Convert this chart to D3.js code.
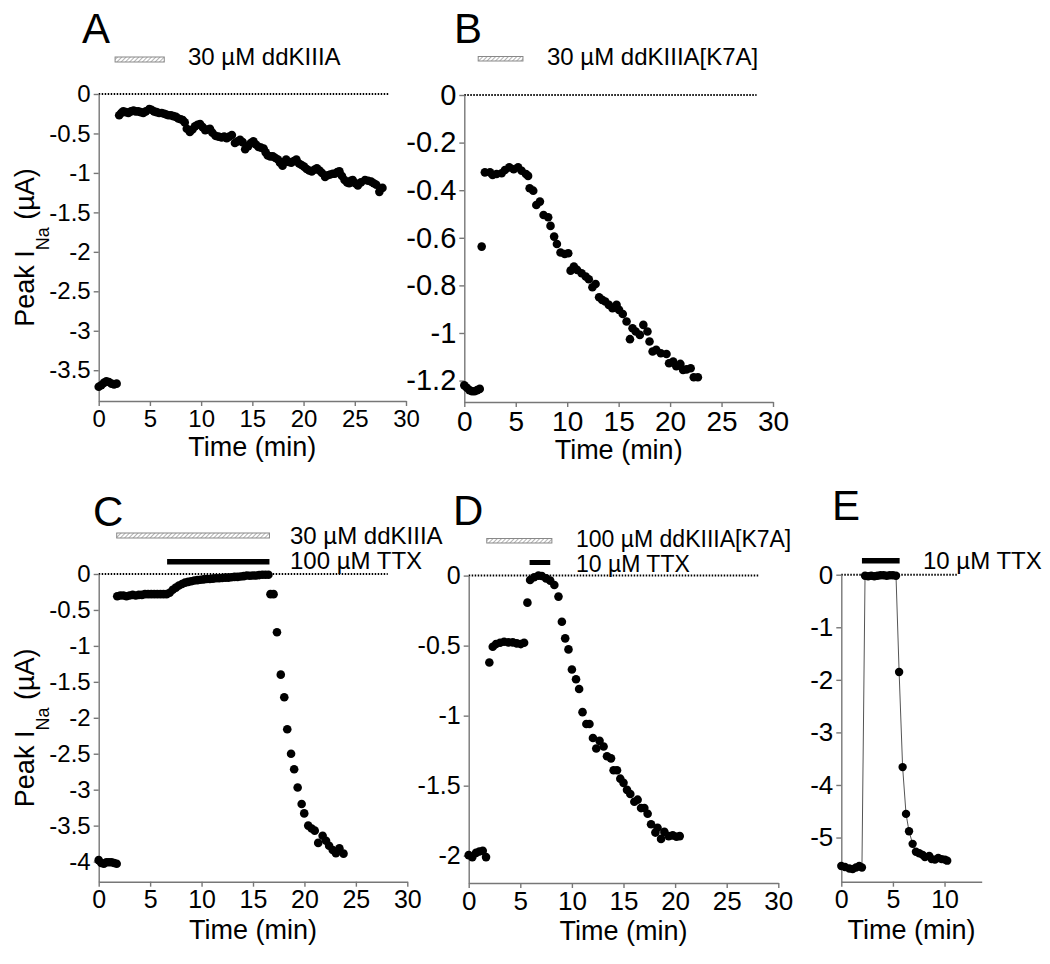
<!DOCTYPE html>
<html><head><meta charset="utf-8">
<script src="https://cdn.jsdelivr.net/npm/d3@7"></script>
<style>body{margin:0;background:#fff} text{font-family:"Liberation Sans",Arial,Helvetica,sans-serif;fill:#000}</style>
</head><body><svg id="c" width="1050" height="964"></svg>
<script>
// ---------- DATA ----------
const aTime = [0,0.25,0.5,0.75,1.0,1.25,1.5,1.75,2.0,2.2,2.4,2.65,2.9,3.15,3.4,3.6,3.86,4.1,4.35,4.6,4.94,5.15,5.4,5.65,5.9,6.15,6.4,6.6,6.8,7.05,7.3,7.55,7.77,8.0,8.2,8.4,8.6,8.9,9.15,9.4,9.65,9.9,10.15,10.4,10.6,10.86,11.1,11.4,11.7,12.0,12.25,12.5,12.75,13.0,13.3,13.55,13.8,14.05,14.3,14.6,14.85,15.1,15.35,15.6,15.85,16.1,16.3,16.5,16.75,17.0,17.25,17.5,17.7,17.95,18.15,18.3,18.55,18.8,19.05,19.3,19.55,19.8,20.05,20.3,20.55,20.8,21.05,21.3,21.55,21.8,22.1,22.35,22.6,22.85,23.05,23.3,23.5,23.75,24.0,24.25,24.45,24.6,24.8,25.05,25.3,25.6,26.0,26.3,26.6,26.85,27.1,27.4,27.7];
const aCurrent = [-3.71,-3.69,-3.66,-3.64,-3.65,-3.67,-3.68,-3.67,-0.27,-0.24,-0.22,-0.23,-0.24,-0.22,-0.21,-0.22,-0.22,-0.23,-0.24,-0.22,-0.19,-0.20,-0.22,-0.23,-0.24,-0.24,-0.25,-0.26,-0.27,-0.27,-0.28,-0.29,-0.31,-0.32,-0.33,-0.36,-0.44,-0.48,-0.45,-0.41,-0.39,-0.38,-0.42,-0.46,-0.45,-0.44,-0.49,-0.53,-0.54,-0.55,-0.54,-0.56,-0.54,-0.52,-0.62,-0.60,-0.58,-0.61,-0.70,-0.66,-0.62,-0.60,-0.64,-0.67,-0.68,-0.69,-0.74,-0.78,-0.79,-0.79,-0.81,-0.83,-0.87,-0.91,-0.86,-0.83,-0.86,-0.87,-0.85,-0.83,-0.88,-0.90,-0.92,-0.95,-0.97,-0.98,-0.96,-0.94,-0.97,-1.00,-1.05,-1.03,-1.02,-1.01,-1.01,-0.99,-0.98,-1.04,-1.09,-1.12,-1.13,-1.10,-1.09,-1.13,-1.16,-1.12,-1.09,-1.10,-1.11,-1.13,-1.15,-1.24,-1.19];

const bTime = [0,0.25,0.5,0.75,1.0,1.25,1.5,1.69,2.0,2.5,2.75,3.14,3.63,3.95,4.37,4.8,5.23,5.57,5.99,6.2,6.35,6.7,7.0,7.35,7.7,8.15,8.38,8.73,9.0,9.35,9.76,10.1,10.33,10.65,10.97,11.4,11.8,12.1,12.45,12.76,13.1,13.4,13.7,14.05,14.4,14.8,15.04,15.4,15.77,16.1,16.35,16.66,17.06,17.4,17.8,18.0,18.3,18.65,19.1,19.65,19.9,20.3,20.6,21.0,21.26,21.6,22.0,22.3,22.7];
const bCurrent = [-1.22,-1.23,-1.24,-1.245,-1.245,-1.24,-1.235,-0.637,-0.325,-0.325,-0.336,-0.332,-0.329,-0.315,-0.304,-0.312,-0.304,-0.318,-0.332,-0.34,-0.392,-0.402,-0.462,-0.448,-0.504,-0.514,-0.55,-0.595,-0.626,-0.662,-0.668,-0.665,-0.738,-0.721,-0.735,-0.749,-0.763,-0.774,-0.808,-0.794,-0.85,-0.861,-0.868,-0.882,-0.896,-0.882,-0.903,-0.92,-0.952,-1.026,-0.98,-0.994,-1.008,-0.966,-0.994,-1.036,-1.078,-1.071,-1.085,-1.088,-1.127,-1.12,-1.14,-1.13,-1.155,-1.153,-1.148,-1.186,-1.186];

const cTime = [0,0.25,0.5,0.75,1.0,1.25,1.5,1.75,1.8,2.1,2.4,2.7,3.0,3.3,3.6,3.9,4.2,4.5,4.8,5.1,5.4,5.7,6.0,6.3,6.6,6.9,7.2,7.5,7.8,8.1,8.4,8.7,9.0,9.3,9.6,9.9,10.2,10.5,10.8,11.1,11.4,11.7,12.0,12.3,12.6,12.9,13.2,13.5,13.8,14.1,14.4,14.7,15.0,15.3,15.6,15.9,16.2,16.5,16.7,17.0,17.33,17.7,18.04,18.33,18.7,19.0,19.34,19.73,19.98,20.37,20.7,21.0,21.34,21.77,22.1,22.4,22.75,23.06,23.4,23.8];
const cCurrent = [-3.98,-4.02,-4.03,-4.01,-4.01,-4.01,-4.02,-4.03,-0.31,-0.30,-0.30,-0.31,-0.30,-0.29,-0.30,-0.29,-0.29,-0.28,-0.28,-0.28,-0.28,-0.28,-0.28,-0.28,-0.28,-0.26,-0.22,-0.19,-0.16,-0.14,-0.12,-0.11,-0.10,-0.09,-0.085,-0.08,-0.075,-0.07,-0.07,-0.065,-0.06,-0.06,-0.055,-0.05,-0.05,-0.045,-0.04,-0.04,-0.035,-0.03,-0.02,-0.025,-0.02,-0.02,-0.015,-0.01,-0.01,-0.01,-0.28,-0.28,-0.81,-1.40,-1.715,-2.16,-2.5,-2.715,-2.97,-3.2,-3.33,-3.5,-3.54,-3.57,-3.74,-3.64,-3.71,-3.78,-3.84,-3.885,-3.815,-3.89];

const dTime = [0,0.35,0.71,1.03,1.36,1.68,2.0,2.33,2.65,3.04,3.43,3.85,4.27,4.66,5.05,5.37,5.69,5.95,6.34,6.76,7.09,7.5,7.9,8.3,8.7,9.03,9.35,9.67,10.0,10.4,10.7,11.03,11.4,11.7,12.04,12.36,12.68,13.07,13.4,13.79,14.04,14.37,14.69,15.0,15.34,15.66,16.05,16.37,16.7,17.02,17.34,17.67,18.09,18.3,18.64,18.96,19.38,19.77,20.13,20.45];
const dCurrent = [-1.996,-2.01,-1.98,-1.97,-1.965,-2.01,-0.62,-0.508,-0.489,-0.479,-0.472,-0.477,-0.477,-0.484,-0.489,-0.479,-0.193,-0.031,-0.012,0,-0.003,-0.02,-0.036,-0.067,-0.15,-0.33,-0.448,-0.527,-0.67,-0.74,-0.81,-0.975,-1.06,-1.06,-1.16,-1.235,-1.18,-1.22,-1.29,-1.305,-1.39,-1.39,-1.45,-1.48,-1.53,-1.56,-1.615,-1.6,-1.66,-1.66,-1.70,-1.775,-1.835,-1.80,-1.88,-1.83,-1.86,-1.855,-1.865,-1.86];

const eTime = [0,0.36,0.78,1.1,1.42,1.74,2.0,2.3,2.6,2.9,3.2,3.5,3.8,4.1,4.4,4.7,5.0,5.3,5.6,5.94,6.27,6.56,6.91,7.23,7.55,7.88,8.1,8.52,8.75,9.07,9.39,9.72,10.04,10.26];
const eCurrent = [-5.54,-5.56,-5.59,-5.6,-5.57,-5.54,-5.57,-0.02,-0.03,-0.02,-0.03,-0.02,-0.01,-0.01,-0.02,-0.01,-0.01,-0.02,-1.85,-3.66,-4.55,-4.88,-5.12,-5.27,-5.30,-5.33,-5.37,-5.35,-5.41,-5.42,-5.39,-5.41,-5.42,-5.44];

const xTicks30 = [0,5,10,15,20,25,30];
const xTicksE = [0,5,10];
const yTicksA = [0,-0.5,-1,-1.5,-2,-2.5,-3,-3.5];
const yTicksB = [0,-0.2,-0.4,-0.6,-0.8,-1,-1.2];
const yTicksC = [0,-0.5,-1,-1.5,-2,-2.5,-3,-3.5,-4];
const yTicksD = [0,-0.5,-1,-1.5,-2];
const yTicksE = [0,-1,-2,-3,-4,-5];

const labelDrugA = "30 µM ddKIIIA";
const labelDrugB = "30 µM ddKIIIA[K7A]";
const labelDrugC = "30 µM ddKIIIA";
const labelTTXC = "100 µM TTX";
const labelDrugD = "100 µM ddKIIIA[K7A]";
const labelTTXD = "10 µM TTX";
const labelTTXE = "10 µM TTX";

// ---------- DRAW ----------
const svg = d3.select("#c");
const FONT = '"Liberation Sans",Arial,Helvetica,sans-serif';
const defs = svg.append("defs");
const pat = defs.append("pattern").attr("id","hatch").attr("patternUnits","userSpaceOnUse")
  .attr("width",3).attr("height",3).attr("patternTransform","rotate(45)");
pat.append("rect").attr("width",3).attr("height",3).attr("fill","#fff");
pat.append("line").attr("x1",0).attr("y1",0).attr("x2",0).attr("y2",3).attr("stroke","#888").attr("stroke-width",1.3);

const fmt = d => d === 0 ? "0" : String(d);

function panel(cfg){
  const x = d3.scaleLinear().domain(cfg.xDomain).range([cfg.left, cfg.right]);
  const y = d3.scaleLinear().domain(cfg.yDomain).range([cfg.bottom, cfg.top]);
  const g = svg.append("g");
  g.append("line").attr("x1",x(0)).attr("x2",x(cfg.zeroEnd)).attr("y1",y(0)).attr("y2",y(0))
    .attr("stroke","#000").attr("stroke-width",2).attr("stroke-dasharray","1.5,1.5");
  const ya = g.append("g").attr("transform",`translate(${cfg.left},0)`)
    .call(d3.axisLeft(y).tickValues(cfg.yTicks).tickFormat(fmt).tickSize(5).tickSizeOuter(0).tickPadding(3));
  const xa = g.append("g").attr("transform",`translate(0,${cfg.bottom})`)
    .call(d3.axisBottom(x).tickValues(cfg.xTicks).tickFormat(fmt).tickSize(5).tickSizeOuter(0).tickPadding(4));
  [ya,xa].forEach(a=>{
    a.select(".domain").attr("stroke","#777").attr("stroke-width",1.4);
    a.selectAll(".tick line").attr("stroke","#777").attr("stroke-width",1.4);
    a.selectAll("text").attr("fill","#000").style("font-family",FONT);
  });
  ya.selectAll("text").style("font-size",cfg.yFont+"px");
  xa.selectAll("text").style("font-size",cfg.xFont+"px");
  g.append("text").attr("x",(cfg.left+cfg.right)/2).attr("y",cfg.bottom+cfg.titleDy)
    .attr("text-anchor","middle").style("font-size","27px").text("Time (min)");
  if(cfg.yTitle){
    const cy=(cfg.top+cfg.bottom)/2;
    const t = g.append("text").attr("transform",`translate(${cfg.left-65},${cy}) rotate(-90)`)
      .attr("text-anchor","middle").style("font-size","27px");
    t.append("tspan").text("Peak I");
    t.append("tspan").attr("dy",15).style("font-size","18px").text("Na");
    t.append("tspan").attr("dy",-15).text(" (µA)");
  }
  g.append("text").attr("x",cfg.letterX).attr("y",cfg.letterY).style("font-size","42px").text(cfg.letter);
  cfg.bars.forEach(b=>{
    g.append("rect").attr("x",x(b.t0)).attr("width",x(b.t1)-x(b.t0)).attr("y",b.y).attr("height",b.h)
      .attr("fill", b.hatch ? "url(#hatch)" : "#000")
      .attr("stroke", b.hatch ? "#888" : "none").attr("stroke-width",1);
    if(b.label) g.append("text").attr("x",b.lx).attr("y",b.ly).style("font-size",(b.fs||24)+"px").text(b.label);
  });
  const pts = cfg.time.map((t,i)=>[t,cfg.cur[i]]);
  if(cfg.line){
    g.append("path").datum(pts).attr("fill","none").attr("stroke","#555").attr("stroke-width",1)
      .attr("d", d3.line().x(d=>x(d[0])).y(d=>y(d[1])));
  }
  g.selectAll("circle.pt").data(pts).join("circle").attr("class","pt")
    .attr("cx",d=>x(d[0])).attr("cy",d=>y(d[1])).attr("r",cfg.r).attr("fill","#000");
}

panel({letter:"A",letterX:82,letterY:43,left:98.7,right:406,top:94,bottom:401,xDomain:[0,30],yDomain:[-3.89,0],
  xTicks:xTicks30,yTicks:yTicksA,zeroEnd:28.3,yFont:24,xFont:24,titleDy:55,yTitle:true,r:4.3,
  time:aTime,cur:aCurrent,
  bars:[{t0:1.6,t1:6.4,y:57,h:5,hatch:true,label:labelDrugA,lx:188,ly:65}]});

panel({letter:"B",letterX:454,letterY:43,left:464.3,right:773,top:95,bottom:402,xDomain:[0,30],yDomain:[-1.29,0],
  xTicks:xTicks30,yTicks:yTicksB,zeroEnd:28.4,yFont:29,xFont:28,titleDy:57,yTitle:false,r:4.3,
  time:bTime,cur:bCurrent,
  bars:[{t0:1.35,t1:5.7,y:56.5,h:4.5,hatch:true,label:labelDrugB,lx:547,ly:65}]});

panel({letter:"C",letterX:93,letterY:526,left:98.7,right:407.3,top:574,bottom:881.7,xDomain:[0,30],yDomain:[-4.28,0],
  xTicks:xTicks30,yTicks:yTicksC,zeroEnd:28.1,yFont:24,xFont:25,titleDy:57,yTitle:true,r:4.3,
  time:cTime,cur:cCurrent,
  bars:[{t0:1.75,t1:16.6,y:533,h:5,hatch:true,label:labelDrugC,lx:290,ly:544},
        {t0:6.65,t1:16.6,y:559,h:5.5,hatch:false,label:labelTTXC,lx:290,ly:569}]});

panel({letter:"D",letterX:453,letterY:525,left:468.7,right:778.3,top:575.6,bottom:883,xDomain:[0,30],yDomain:[-2.195,0],
  xTicks:xTicks30,yTicks:yTicksD,zeroEnd:28.1,yFont:25,xFont:26,titleDy:57,yTitle:false,r:4.3,
  time:dTime,cur:dCurrent,
  bars:[{t0:1.75,t1:8.06,y:538.5,h:4.5,hatch:true,label:labelDrugD,lx:576,ly:547,fs:23},
        {t0:5.9,t1:7.9,y:560,h:5,hatch:false,label:labelTTXD,lx:576,ly:572,fs:23}]});

panel({letter:"E",letterX:832,letterY:520,left:841.3,right:981.7,top:574.7,bottom:881.7,xDomain:[0,13.6],yDomain:[-5.84,0],
  xTicks:xTicksE,yTicks:yTicksE,zeroEnd:11.3,yFont:26,xFont:25,titleDy:57,yTitle:false,r:4.2,line:true,
  time:eTime,cur:eCurrent,
  bars:[{t0:2.0,t1:5.65,y:558,h:5.5,hatch:false,label:labelTTXE,lx:923,ly:569}]});
</script></body></html>
